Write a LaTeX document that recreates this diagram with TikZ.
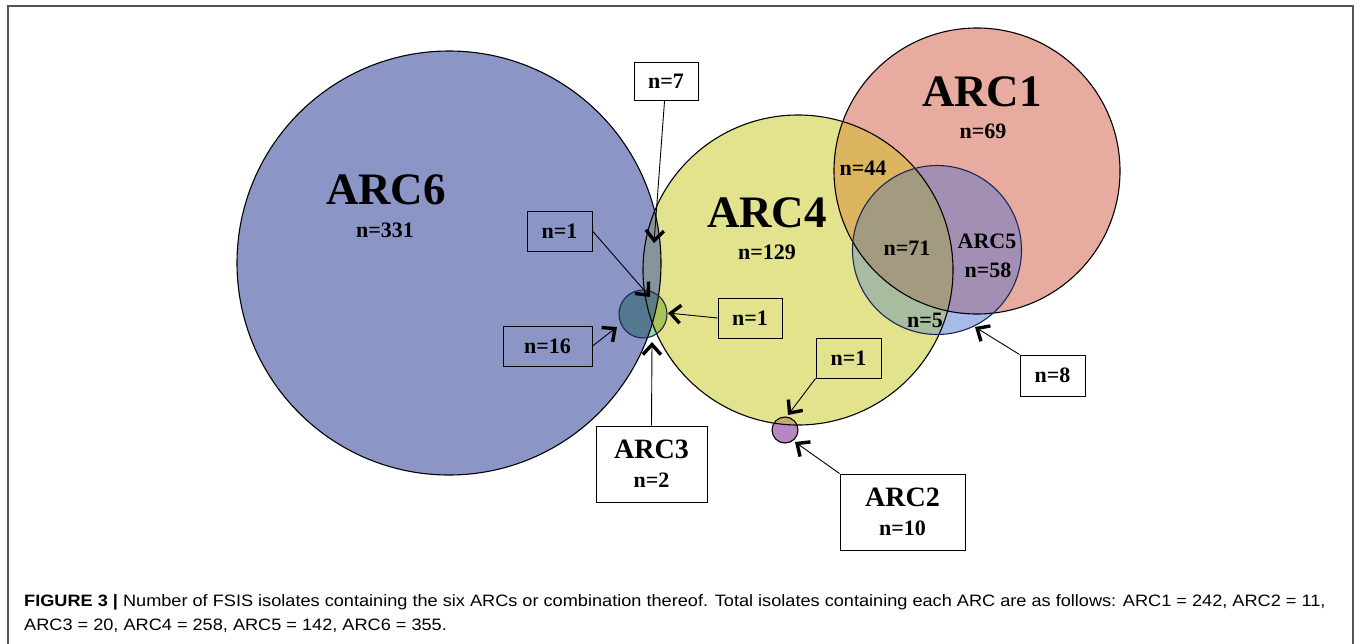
\documentclass[tikz,border=0pt]{standalone}
\usepackage{fontspec}
\setmainfont{Liberation Serif}
\newfontfamily\capfont[FakeStretch=1.10]{Liberation Sans}
\usetikzlibrary{calc}
\usetikzlibrary{arrows.meta}

\definecolor{arcsix}{RGB}{139,150,198}
\definecolor{arcfour}{RGB}{227,227,142}
\definecolor{arcone}{RGB}{232,171,160}
\definecolor{arcfive}{RGB}{168,186,232}
\definecolor{arcthree}{RGB}{160,212,172}
\definecolor{arctwo}{RGB}{182,135,192}
\definecolor{sixfour}{RGB}{136,148,156}
\definecolor{onefour}{RGB}{221,180,96}
\definecolor{fivefour}{RGB}{168,188,160}
\definecolor{fiveone}{RGB}{163,143,180}
\definecolor{fiveonefour}{RGB}{163,155,127}
\definecolor{threesix}{RGB}{85,120,145}
\definecolor{threefour}{RGB}{170,196,85}
\definecolor{threesixfour}{RGB}{95,125,128}
\definecolor{twofour}{RGB}{200,170,110}
\definecolor{navy}{RGB}{25,40,85}
\definecolor{framegray}{RGB}{85,85,85}

\begin{document}
\begin{tikzpicture}[x=1pt,y=-1pt,
    circ/.style={line width=1.1pt},
    big/.style={inner sep=0pt,font=\fontsize{45}{50}\selectfont\bfseries},
    num/.style={inner sep=0pt,font=\fontsize{22}{26}\selectfont\bfseries},
    tag/.style={draw,line width=1pt,inner sep=0pt,align=center,
        font=\fontsize{22}{29}\selectfont\bfseries},
    pointer/.style={line width=0.9pt,
        -{Straight Barb[length=10pt,width=18pt,line width=3.4pt]}}]
\useasboundingbox (0,0) rectangle (1360,643);

\coordinate (six) at (449,263);
\coordinate (four) at (798,270);
\coordinate (one) at (977,171);
\coordinate (five) at (937,250);
\coordinate (three) at (643,314);
\coordinate (two) at (785,430);

\def\csix{(six) circle[radius=212]}
\def\cfour{(four) circle[radius=155]}
\def\cone{(one) circle[radius=143]}
\def\cfive{(five) circle[radius=84.5]}
\def\cthree{(three) circle[radius=24]}
\def\ctwo{(two) circle[radius=13]}

\newcommand{\region}[3]{
    \begin{scope}\clip #1; \fill[#3] #2; \end{scope}
}
\newcommand{\regionb}[4]{
    \begin{scope}\clip #1; \clip #2; \fill[#4] #3; \end{scope}
}

% frame
\draw[framegray,line width=1.5pt] (8,660) -- (8,6) -- (1353,6) -- (1353,660);

% fills
\fill[arcsix] \csix;
\fill[arcfour] \cfour;
\region{\csix}{\cfour}{sixfour}
\fill[arcone] \cone;
\region{\cfour}{\cone}{onefour}
\fill[arcfive] \cfive;
\region{\cfour}{\cfive}{fivefour}
\region{\cone}{\cfive}{fiveone}
\regionb{\cfour}{\cone}{\cfive}{fiveonefour}
\fill[arcthree] \cthree;
\region{\csix}{\cthree}{threesix}
\region{\cfour}{\cthree}{threefour}
\regionb{\csix}{\cfour}{\cthree}{threesixfour}
\fill[arctwo] \ctwo;
\region{\cfour}{\ctwo}{twofour}

% outlines
\draw[circ] \csix;
\draw[circ] \cfour;
\draw[circ] \cone;
\draw[circ,navy] \cfive;
\draw[circ,navy] \cthree;
\draw[circ] \ctwo;

% labels in the circles
\node[big] (lsix) at (386,190) {ARC6};
\node[num] (nsix) at (385,230) {n=331};
\node[big] (lfour) at (767,213) {ARC4};
\node[num] (nfour) at (767,252) {n=129};
\node[big] (lone) at (982,92) {ARC1};
\node[num] (none) at (983,131) {n=69};
\node[num] (nonefour) at (863,168) {n=44};
\node[num] (nall) at (907,248) {n=71};
\node[num] (lfive) at (987,241) {ARC5};
\node[num] (nfive) at (988,270) {n=58};
\node[num] (nfivefour) at (925,320) {n=5};

% boxes
\node[tag,minimum width=64pt,minimum height=38pt] (bseven) at (666,81) {n=7};
\node[tag,minimum width=65pt,minimum height=40pt] (bonel) at (559.5,231) {n=1};
\node[tag,minimum width=89pt,minimum height=40pt] (bsixteen) at (547.5,346) {n=16};
\node[tag,minimum width=64pt,minimum height=40pt] (boner) at (750,318) {n=1};
\node[tag,minimum width=111pt,minimum height=76pt] (bthree) at (651.5,464)
    {{\fontsize{28}{29}\selectfont ARC3}\\n=2};
\node[tag,minimum width=65pt,minimum height=40pt] (boneb) at (848.5,358) {n=1};
\node[tag,minimum width=125pt,minimum height=76pt] (btwo) at (902.5,512)
    {{\fontsize{28}{29}\selectfont ARC2}\\n=10};
\node[tag,minimum width=65pt,minimum height=41pt] (beight) at (1052.5,375.5) {n=8};

% arrow targets
\coordinate (tseven) at (654,243);
\coordinate (tonel) at (650,297);
\coordinate (tsixteen) at (617,327);
\coordinate (toner) at (668,313);
\coordinate (tthree) at (652,342);
\coordinate (toneb) at (788,415);
\coordinate (ttwo) at (795,442);
\coordinate (teight) at (975,327);

\draw[pointer] (bseven) -- (tseven);
\draw[pointer] (bonel.east) -- (tonel);
\draw[pointer] (bsixteen.east) -- (tsixteen);
\draw[pointer] (boner.west) -- (toner);
\draw[pointer] (bthree.north) -- (tthree);
\draw[pointer] (boneb.south west) -- (toneb);
\draw[pointer] (btwo.north west) -- (ttwo);
\draw[pointer] (beight.north west) -- (teight);

% caption
\node[anchor=base west,inner sep=0pt,font=\capfont\fontsize{16.5}{18}\selectfont] (capa) at (24,606)
    {\textbf{FIGURE 3 |} Number of FSIS isolates containing the six ARCs or combination thereof. Total isolates containing each ARC are as follows: ARC1 = 242, ARC2 = 11,};
\node[anchor=base west,inner sep=0pt,font=\capfont\fontsize{16.5}{18}\selectfont] (capb) at (24,630)
    {ARC3 = 20, ARC4 = 258, ARC5 = 142, ARC6 = 355.};
\end{tikzpicture}
\end{document}
